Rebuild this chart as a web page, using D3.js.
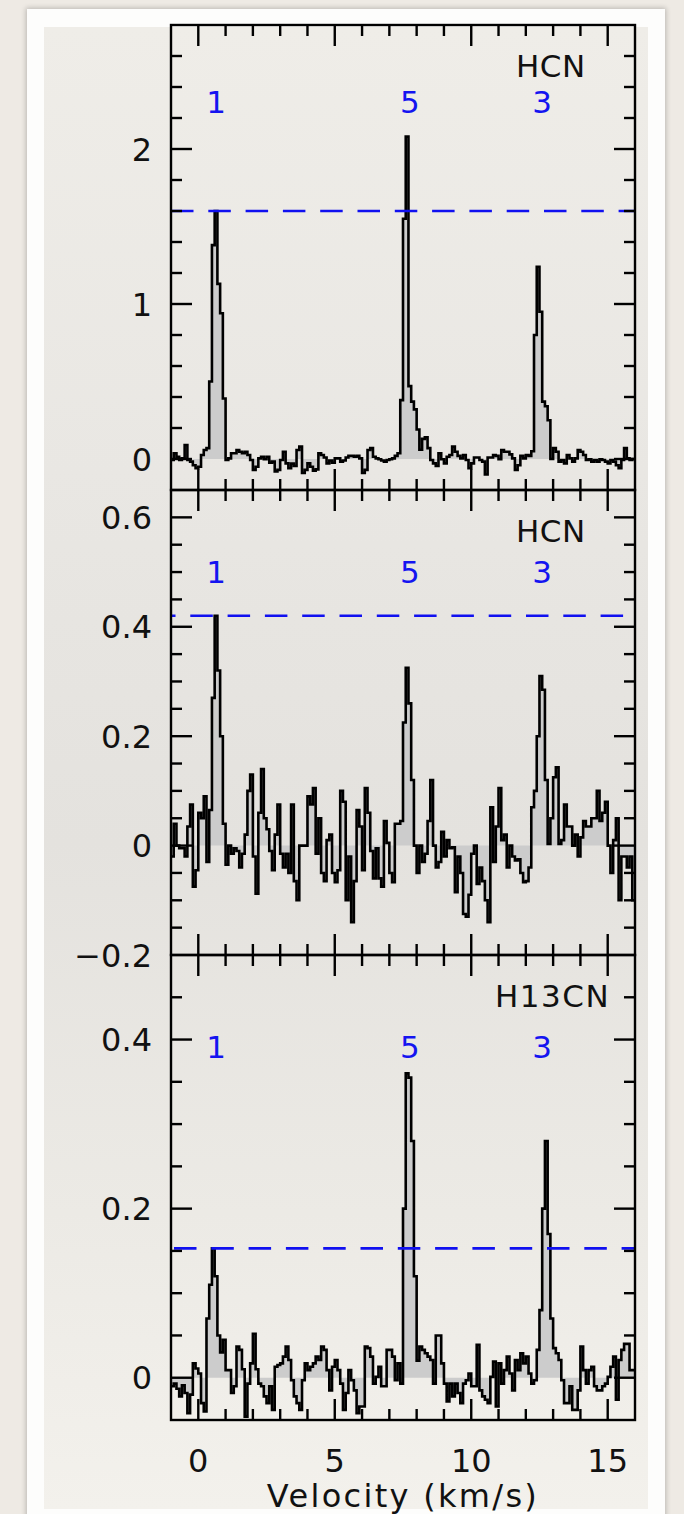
<!DOCTYPE html>
<html><head><meta charset="utf-8">
<script src="https://cdn.jsdelivr.net/npm/d3@7"></script>
<style>
html,body{margin:0;padding:0;width:684px;height:1514px;overflow:hidden;background:#eeeae4;}
#card{position:absolute;left:27px;top:9px;width:638px;height:1530px;background:#fdfdfc;box-shadow:0 0 5px 1px rgba(0,0,0,0.22);}
#inner{position:absolute;left:44px;top:27px;width:604px;height:1482px;background:linear-gradient(#efede8,#e9e7e3 30%,#e4e2de 55%,#eceae5 80%,#f3f1ec);}
svg{position:absolute;left:0;top:0;}
text{font-family:"DejaVu Sans",sans-serif;}
</style></head><body>
<div id="card"></div><div id="inner"></div>
<svg id="chart" width="684" height="1514"></svg>
<script>
// ---- data ----
const velocityStart = -1.0;
const channelWidth = 0.1;

const hcnStrong = [
 -0.006,0.037,0.015,-0.006,0.004,0.09,-0.006,-0.017,-0.04,-0.06,-0.05,0.026,0.058,0.07,
 0.5,1.38,1.6,1.13,0.94,0.39,
 -0.006,0.004,0.037,0.037,0.058,0.047,0.037,0.047,0.026,-0.006,
 -0.07,-0.05,0.004,0.015,-0.002,0.015,-0.024,-0.017,-0.08,-0.07,
 -0.006,0.047,-0.028,-0.06,-0.03,-0.045,0.058,0.08,-0.09,-0.07,
 -0.028,-0.05,-0.075,-0.067,0.037,0.026,0.01,-0.028,-0.01,-0.024,
 0.004,0.004,-0.017,-0.01,0.01,0.02,0.02,0.015,0.02,0.004,
 -0.09,-0.07,0.058,0.07,0.015,0.004,-0.002,-0.01,-0.017,-0.006,
 -0.002,0.004,0.02,0.037,
 0.38,1.55,2.08,0.47,0.37,0.32,0.19,0.06,0.13,0.14,0.07,
 -0.006,-0.028,-0.045,0.037,-0.002,
 -0.028,0.015,0.026,0.08,0.047,0.02,0.004,0.026,-0.006,-0.06,
 -0.028,0.01,0.01,-0.006,-0.017,-0.1,0.01,0.01,0.026,0.02,
 -0.002,0.058,0.047,0.047,0.03,0.004,-0.07,-0.04,0.02,0.004,
 0.026,0.02,0.05,
 0.8,1.24,0.95,0.37,0.34,0.25,0.0,0.07,0.047,
 -0.017,-0.006,-0.028,0.026,0.004,-0.017,0.004,0.058,
 0.047,0.026,-0.006,-0.002,-0.017,-0.006,-0.017,-0.002,-0.006,-0.017,
 -0.028,-0.006,-0.017,-0.04,-0.06,-0.006,0.07,0.004,-0.006,0.0
];

const hcnWeak = [
 -0.02,0.04,0.0,-0.005,-0.005,-0.02,0.035,0.075,-0.075,-0.045,0.06,0.05,0.09,-0.03,0.065,
 0.27,0.42,0.32,0.2,0.04,
 -0.035,0.0,-0.015,-0.005,-0.01,-0.04,-0.015,0.02,0.1,0.13,
 -0.02,-0.088,0.06,0.14,0.05,0.03,-0.01,-0.045,0.02,0.075,
 -0.015,-0.04,-0.015,-0.05,0.075,-0.065,-0.1,0.0,0.0,0.0,
 0.09,0.075,0.105,-0.015,0.05,-0.05,-0.065,0.01,0.02,-0.05,
 -0.067,-0.045,0.1,0.08,-0.1,-0.02,-0.14,-0.065,0.065,0.035,
 -0.045,0.105,0.06,-0.01,-0.06,-0.005,-0.06,-0.075,0.045,0.005,
 -0.05,-0.067,0.04,0.04,0.045,
 0.225,0.325,0.26,0.12,0.0,
 -0.05,0.0,-0.03,-0.015,0.045,0.12,0.0,-0.04,-0.03,0.025,
 -0.02,0.01,-0.005,-0.003,-0.085,-0.02,-0.05,-0.125,-0.13,-0.09,
 -0.015,0.0,-0.07,-0.04,-0.065,-0.1,-0.14,0.07,-0.03,0.035,
 0.105,0.01,0.02,-0.04,0.0,-0.02,-0.027,-0.025,-0.05,-0.067,
 -0.065,-0.04,0.07,0.1,0.2,0.31,0.285,0.12,0.003,0.05,
 0.125,0.143,0.003,0.01,0.075,0.035,0.035,0.0,0.02,-0.02,
 0.015,0.045,0.035,0.035,0.05,0.05,0.1,0.045,0.06,0.08,
 0.0,-0.05,0.01,0.05,-0.1,-0.02,-0.02,-0.04,-0.02,-0.1
];

const h13cn = [
 -0.01,-0.007,-0.013,-0.022,-0.009,-0.018,-0.042,-0.02,0.017,0.011,0.005,-0.03,-0.04,
 0.07,0.11,0.153,0.12,0.05,
 0.03,0.045,0.009,0.009,-0.018,-0.01,0.037,0.033,0.01,-0.046,-0.007,0.017,
 0.052,0.01,-0.007,-0.01,-0.022,-0.03,-0.01,-0.038,0.013,0.015,
 0.017,0.025,0.037,0.021,-0.003,-0.022,-0.03,-0.038,-0.003,0.017,
 0.009,0.013,0.017,0.025,0.021,0.037,0.033,0.009,-0.015,0.013,
 0.021,0.009,-0.007,-0.038,-0.018,0.009,-0.003,-0.015,-0.042,-0.034,
 -0.034,0.037,0.035,0.025,-0.007,0.001,0.013,-0.01,-0.01,0.033,
 0.033,0.025,-0.003,0.017,-0.007,
 0.2,0.36,0.355,0.28,0.12,0.02,
 0.037,0.033,0.029,0.025,0.021,-0.007,0.05,0.05,0.017,
 -0.007,-0.028,-0.007,-0.022,-0.007,-0.018,-0.03,-0.007,-0.003,0.005,
 -0.01,-0.01,0.039,-0.015,-0.022,-0.026,-0.03,0.001,0.019,-0.034,
 0.017,-0.007,0.009,0.025,0.005,-0.015,0.021,0.009,0.029,0.017,
 0.025,0.005,-0.007,-0.003,0.033,
 0.08,0.2,0.28,0.17,0.07,0.035,
 0.029,0.021,-0.003,-0.03,-0.03,-0.01,-0.038,-0.038,-0.015,
 0.037,0.009,-0.007,0.009,0.013,-0.01,-0.015,-0.015,-0.01,-0.007,
 0.001,0.013,0.025,-0.026,0.021,0.033,0.04,0.04,0.009,0.009
];

const panelNames = ["HCN", "HCN", "H13CN"];
const componentLabels = ["1", "5", "3"];
const componentVelocities = [0.65, 7.75, 12.6];
const thresholds = [1.6, 0.42, 0.153];
const yDomains = [[-0.2, 2.8], [-0.2, 0.65], [-0.05, 0.5]];
const yMajorTicks = [[0, 1, 2], [-0.2, 0, 0.2, 0.4, 0.6], [0, 0.2, 0.4]];
const yTickLabels = [["0", "1", "2"], ["\u22120.2", "0", "0.2", "0.4", "0.6"], ["0", "0.2", "0.4"]];
const yMinorStep = [0.2, 0.05, 0.05];
const xDomain = [-1, 16];
const xMajorTicks = [0, 5, 10, 15];
const xTickLabels = ["0", "5", "10", "15"];
const xTitle = "Velocity (km/s)";

// ---- layout ----
const plotLeft = 171, plotRight = 635;
const panelTops = [25, 490, 955];
const panelHeight = 465;
const labelValueY = [2.23, 0.48, 0.378];
const nameX = [516, 516, 495];
const dashOffsets = [0, 18, -3];
const spectra = [hcnStrong, hcnWeak, h13cn];

const svg = d3.select("#chart");
const defs = svg.append("defs");
const x = d3.scaleLinear().domain(xDomain).range([plotLeft, plotRight]);
const xMinor = d3.range(0, 16, 1);

spectra.forEach((data, k) => {
  const top = panelTops[k], bottom = top + panelHeight;
  const y = d3.scaleLinear().domain(yDomains[k]).range([bottom, top]);
  const clipId = "clip" + k;
  defs.append("clipPath").attr("id", clipId).append("rect")
    .attr("x", plotLeft).attr("y", top).attr("width", plotRight - plotLeft).attr("height", panelHeight);
  const g = svg.append("g");
  const pts = [];
  data.forEach((v, i) => {
    const lo = velocityStart + i * channelWidth;
    pts.push([lo, v], [lo + channelWidth, v]);
  });
  const area = d3.area().x(d => x(d[0])).y0(y(0)).y1(d => y(d[1]));
  const line = d3.line().x(d => x(d[0])).y(d => y(d[1]));
  const pg = g.append("g").attr("clip-path", `url(#${clipId})`);
  pg.append("path").attr("d", area(pts)).attr("fill", "#cccccc");
  pg.append("path").attr("d", line(pts)).attr("fill", "none").attr("stroke", "#000")
    .attr("stroke-width", 2.6).attr("stroke-linejoin", "miter");
  pg.append("line").attr("x1", plotLeft).attr("x2", plotRight)
    .attr("y1", y(thresholds[k])).attr("y2", y(thresholds[k]))
    .attr("stroke", "#1010f0").attr("stroke-width", 2.6)
    .attr("stroke-dasharray", "22.5,14.8").attr("stroke-dashoffset", dashOffsets[k]);

  // frame
  g.append("rect").attr("x", plotLeft).attr("y", top).attr("width", plotRight - plotLeft)
    .attr("height", panelHeight).attr("fill", "none").attr("stroke", "#000").attr("stroke-width", 2.4);

  // x ticks (top & bottom, inward)
  xMinor.forEach(t => {
    const len = xMajorTicks.includes(t) ? 21 : 11;
    g.append("line").attr("x1", x(t)).attr("x2", x(t)).attr("y1", bottom).attr("y2", bottom - len)
      .attr("stroke", "#000").attr("stroke-width", 2.4);
    g.append("line").attr("x1", x(t)).attr("x2", x(t)).attr("y1", top).attr("y2", top + len)
      .attr("stroke", "#000").attr("stroke-width", 2.4);
  });
  // y ticks
  const [d0, d1] = yDomains[k];
  const st = yMinorStep[k];
  const yt = d3.range(Math.ceil(d0 / st - 1e-6) * st, d1 + 1e-9, st)
    .map(v => Math.round(v * 1000) / 1000)
    .filter(v => v > d0 + 1e-6 && v < d1 - 1e-6);
  yt.forEach(t => {
    const major = yMajorTicks[k].some(m => Math.abs(m - t) < 1e-6);
    const len = major ? 21 : 11;
    g.append("line").attr("x1", plotLeft).attr("x2", plotLeft + len).attr("y1", y(t)).attr("y2", y(t))
      .attr("stroke", "#000").attr("stroke-width", 2.4);
    g.append("line").attr("x1", plotRight).attr("x2", plotRight - len).attr("y1", y(t)).attr("y2", y(t))
      .attr("stroke", "#000").attr("stroke-width", 2.4);
  });
  // y tick labels
  yMajorTicks[k].forEach((t, j) => {
    g.append("text").attr("x", 152).attr("y", y(t)).attr("dy", "0.36em")
      .attr("text-anchor", "end").attr("font-size", 32).attr("fill", "#111").text(yTickLabels[k][j]);
  });
  // panel name
  g.append("text").attr("x", nameX[k]).attr("y", top + 52).attr("font-size", 31)
    .attr("letter-spacing", k === 2 ? 1.5 : 0.5).attr("fill", "#111").text(panelNames[k]);
  // component labels
  componentLabels.forEach((lab, j) => {
    g.append("text").attr("x", x(componentVelocities[j])).attr("y", y(labelValueY[k]))
      .attr("text-anchor", "middle").attr("font-size", 31).attr("fill", "#1414f0").text(lab);
  });
});

// x tick labels and title
xMajorTicks.forEach((t, j) => {
  svg.append("text").attr("x", x(t)).attr("y", 1472).attr("text-anchor", "middle")
    .attr("font-size", 32).attr("fill", "#111").text(xTickLabels[j]);
});
svg.append("text").attr("x", (plotLeft + plotRight) / 2).attr("y", 1507).attr("text-anchor", "middle")
  .attr("font-size", 32).attr("letter-spacing", 2.3).attr("fill", "#111").text(xTitle);
</script>
</body></html>
